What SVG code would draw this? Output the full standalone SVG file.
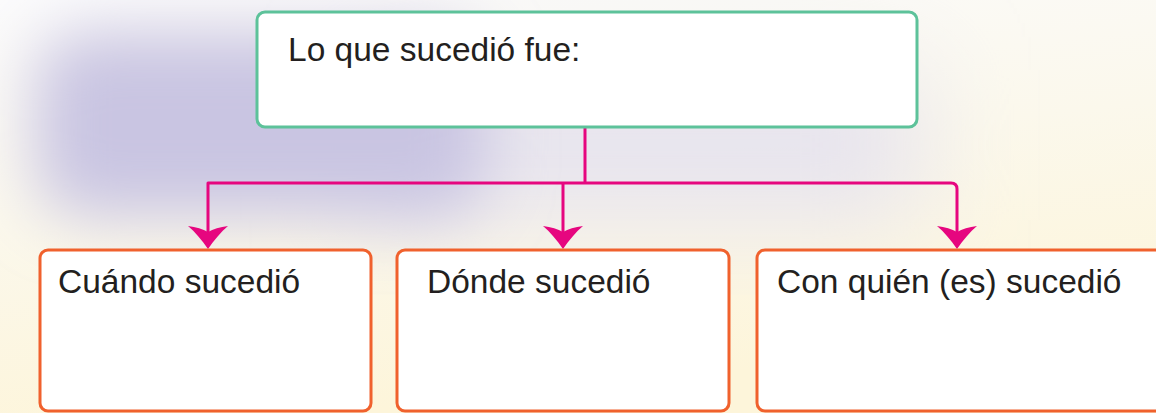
<svg xmlns="http://www.w3.org/2000/svg" xmlns:xlink="http://www.w3.org/1999/xlink" width="1156" height="413" viewBox="0 0 1156 413">
  <defs>
    <linearGradient id="bgGrad" x1="0" y1="0" x2="0.3" y2="1">
      <stop offset="0" stop-color="#fbfbfc"/>
      <stop offset="0.5" stop-color="#fbf8ec"/>
      <stop offset="1" stop-color="#fdf5da"/>
    </linearGradient>
    <filter id="blur" x="-50%" y="-50%" width="200%" height="200%">
      <feGaussianBlur stdDeviation="32"/>
    </filter>
    <filter id="blurWide" x="-50%" y="-50%" width="200%" height="200%">
      <feGaussianBlur stdDeviation="50"/>
    </filter>
    <path id="arrowHead" d="M0,0 C-6,-9 -13,-17 -20,-23 C-12,-22 -5,-20 0,-17 C5,-20 12,-22 20,-23 C13,-17 6,-9 0,0 Z"/>
    <style>
      .txt { font-family: "Liberation Sans", Arial, sans-serif; font-size: 33.5px; fill: #231f20; }
      .top { fill: #ffffff; stroke: #5dc29a; stroke-width: 3; }
      .box { fill: #ffffff; stroke: #f0612d; stroke-width: 3; }
      .conn { fill: none; stroke: #e6067f; stroke-width: 3; stroke-linejoin: round; }
      .head { fill: #e6067f; }
    </style>
  </defs>

  <!-- background -->
  <rect x="0" y="0" width="1156" height="413" fill="url(#bgGrad)"/>
  <rect x="360" y="70" width="560" height="150" fill="#e6e3ee" filter="url(#blurWide)"/>
  <rect x="35" y="32" width="450" height="185" rx="50" fill="#c9c5e2" filter="url(#blur)"/>

  <!-- connectors -->
  <g id="connectors">
    <path class="conn" d="M585,128 V183"/>
    <path class="conn" d="M208,236 V183 H951 Q957,183 957,189 V236"/>
    <path class="conn" d="M563,183 V236"/>
    <use xlink:href="#arrowHead" class="head" x="208" y="249"/>
    <use xlink:href="#arrowHead" class="head" x="563" y="249"/>
    <use xlink:href="#arrowHead" class="head" x="957" y="249"/>
  </g>

  <g id="node-top">
    <rect class="top" x="257" y="12" width="660" height="115" rx="8" ry="8"/>
    <text class="txt" x="288" y="61">Lo que sucedió fue:</text>
  </g>

  <g id="node-cuando">
    <rect class="box" x="40" y="250" width="331" height="161" rx="8" ry="8"/>
    <text class="txt" x="58" y="293">Cuándo sucedió</text>
  </g>

  <g id="node-donde">
    <rect class="box" x="397" y="250" width="332" height="161" rx="8" ry="8"/>
    <text class="txt" x="427" y="293">Dónde sucedió</text>
  </g>

  <g id="node-conquien">
    <rect class="box" x="757" y="250" width="420" height="161" rx="8" ry="8"/>
    <text class="txt" x="777" y="293">Con quién (es) sucedió</text>
  </g>
</svg>
